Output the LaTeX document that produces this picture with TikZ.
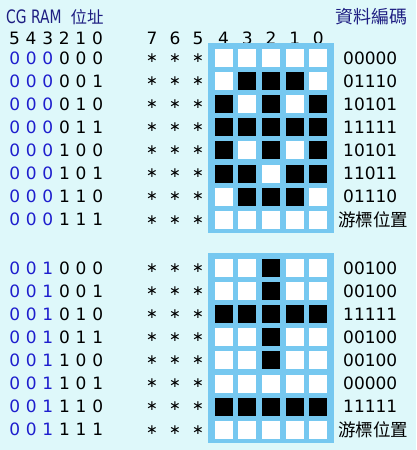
\documentclass[tikz,border=0pt]{standalone}
\usepackage{fontspec}
\setmainfont{DejaVu Sans}
\newfontfamily\cjk{Noto Sans CJK TC}
\definecolor{bgcyan}{RGB}{222,248,250}
\definecolor{framebl}{RGB}{118,200,240}
\definecolor{titlebl}{RGB}{30,30,130}
\definecolor{bitbl}{RGB}{30,30,205}
\newcommand{\dg}[1]{\makebox[16.6pt]{#1}}
\newcommand{\sx}{\makebox[23pt]{\fontsize{14}{14}\selectfont ∗}}
\tikzset{
  bit/.style={inner sep=0pt,font=\fontsize{17}{17}\selectfont},
  addrtxt/.style={bit,anchor=west},
  codetxt/.style={bit,anchor=west},
  headtxt/.style={inner sep=0pt,anchor=base west,text=titlebl},
}
% #1 y offset, #2 third address bit, #3 rows: row/b4/b3/b2/b1/b0
\newcommand{\letterblock}[3]{%
  \fill[framebl] (207.5,43+#1) rectangle (334,233+#1);
  \foreach \r/\ba/\bb/\bc/\bd/\be in {#3}{
    \pgfmathsetmacro\yc{58+#1+23.1*\r}
    \pgfmathtruncatemacro\la{\r/4}
    \pgfmathtruncatemacro\lb{mod(floor(\r/2),2)}
    \pgfmathtruncatemacro\lc{mod(\r,2)}
    \node[addrtxt] (adr-#2-\r) at (6.2,\yc)
      {{\color{bitbl}\dg0\dg0\dg{#2}}\dg\la\dg\lb\dg\lc};
    \node[bit] (star-#2-\r) at (175,\yc) {\sx\sx\sx};
    \foreach \v [count=\k from 0] in {\ba,\bb,\bc,\bd,\be}{
      \fill[white] (214.6+23.7*\k,\yc-9) rectangle ++(18,18);
      \ifnum\v=1 \fill[black] (214.6+23.7*\k,\yc-9) rectangle ++(18,18);\fi
    }
    \ifnum\r<7 \node[codetxt] (code-#2-\r) at (343,\yc) {\ba\bb\bc\bd\be};\fi
  }
  \node[bit,anchor=west,font=\cjk\fontsize{17.5}{17.5}\selectfont] (cur-#2)
    at (338,58+#1+23.1*7) {游標位置};
}

\begin{document}
\begin{tikzpicture}[x=1pt,y=-1pt]
\fill[bgcyan] (0,0) rectangle (416,450);
\useasboundingbox (0,0) rectangle (416,450);
% headings
\node[headtxt] (addr) at (6,23) {\fontsize{18.5}{18.5}\selectfont
  \scalebox{0.75}[1]{CG RAM}\hspace{9pt}{\cjk\fontsize{16.5}{16.5}\selectfont 位址}};
\node[headtxt,font=\cjk\fontsize{18}{18}\selectfont] (data) at (335,23) {資料編碼};
\foreach \b [count=\i from 0] in {5,...,0}
  \node[bit] (ah\b) at (14.5+16.6*\i,38) {\b};
\foreach \b [count=\i from 0] in {7,6,5}
  \node[bit] (sh\b) at (152+23*\i,38) {\b};
\foreach \b [count=\i from 0] in {4,...,0}
  \node[bit] (ch\b) at (223.6+23.7*\i,38) {\b};
% letter blocks
\letterblock{0}{0}{0/0/0/0/0/0,1/0/1/1/1/0,2/1/0/1/0/1,3/1/1/1/1/1,
  4/1/0/1/0/1,5/1/1/0/1/1,6/0/1/1/1/0,7/0/0/0/0/0}
\letterblock{210}{1}{0/0/0/1/0/0,1/0/0/1/0/0,2/1/1/1/1/1,3/0/0/1/0/0,
  4/0/0/1/0/0,5/0/0/0/0/0,6/1/1/1/1/1,7/0/0/0/0/0}
\end{tikzpicture}
\end{document}
